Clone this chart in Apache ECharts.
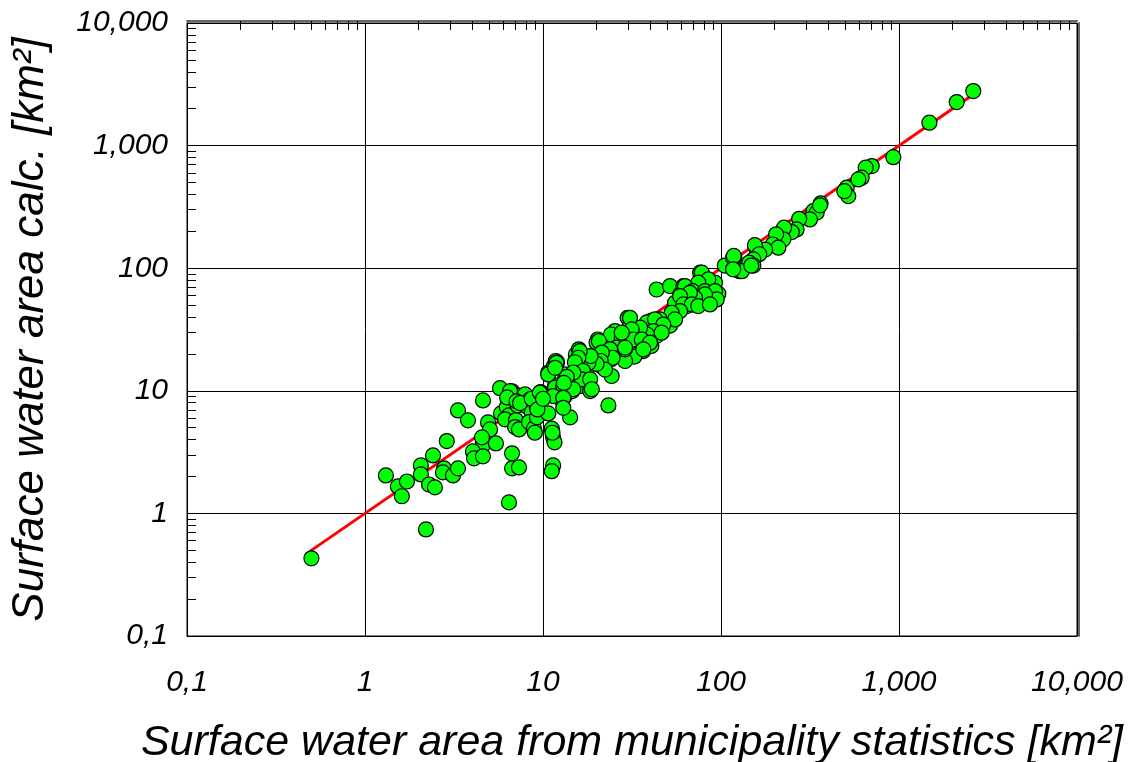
<!DOCTYPE html>
<html>
<head>
<meta charset="utf-8">
<script src="https://cdn.jsdelivr.net/npm/echarts@6/dist/echarts.min.js"></script>
<style>
  html, body { margin: 0; background: #fff; }
  #main { width: 1136px; height: 762px; }
</style>
</head>
<body>
<div id="main"></div>
<script>
// surface water area per municipality: [from statistics, calculated] (km²)
var municipalities = [
  [0.5, 0.43], [1.31, 2.04], [1.53, 1.66], [1.61, 1.38], [1.72, 1.82], [2.06, 2.46], [2.06, 2.08],
  [2.41, 2.97], [2.29, 1.72], [2.47, 1.63], [2.2, 0.74], [2.88, 3.89], [2.78, 2.33], [2.74, 2.16],
  [3.12, 2.04], [3.33, 2.33], [3.33, 6.92], [3.79, 5.74], [4.6, 8.35], [4.91, 5.52], [5.04, 4.84],
  [4.6, 3.87], [4.6, 3.59], [4.04, 3.2], [4.1, 2.81], [4.6, 2.92], [4.54, 4.17], [5.44, 3.72],
  [6.7, 3.09], [6.7, 2.33], [7.33, 2.37], [6.44, 1.23], [5.73, 10.5], [6.7, 9.9], [7.14, 9.17],
  [5.81, 6.54], [6.25, 7.36], [6.44, 6.3], [6.12, 5.85], [7.05, 5.77], [6.97, 5.06], [7.33, 4.84],
  [7.2, 7.6], [6.53, 9.95], [7.93, 9.35], [8.1, 7.46], [8.45, 8.5], [8.64, 6.7], [8.34, 5.56],
  [9.22, 7.41], [8.9, 4.93], [9.25, 6.07], [9.96, 8.83], [9.7, 9.77], [10.7, 6.54], [10.7, 14.1],
  [11.5, 15.9], [11.7, 11.1], [11.8, 17.5], [11.2, 4.91], [11.4, 4.17], [11.6, 3.8], [11.4, 2.46],
  [11.2, 2.21], [6.29, 8.83], [7.1, 8.2], [23.3, 7.6], [14.2, 6.07], [7.43, 7.95], [8.64, 8.61],
  [9.0, 4.55], [9.3, 7.05], [9.6, 9.65], [11.3, 4.55], [11.7, 10.6], [10.7, 13.6], [12.0, 17.1],
  [13.3, 13.6], [13.0, 10.9], [13.3, 9.05], [12.7, 8.5], [14.2, 12.4], [14.6, 9.95], [15.3, 19.8],
  [15.9, 21.8], [15.8, 14.9], [16.1, 10.9], [16.8, 12.4], [18.0, 18.0], [17.6, 14.1], [18.4, 9.95],
  [19.5, 16.9], [20.3, 26.2], [20.9, 19.8], [21.2, 15.9], [23.3, 23.2], [24.3, 13.2], [24.9, 28.8],
  [25.4, 30.7], [24.0, 18.0], [28.3, 21.8], [29.3, 25.4], [29.9, 39.4], [32.2, 31.7], [28.9, 18.0],
  [33.6, 26.2], [36.2, 24.7], [36.6, 21.1], [40.6, 23.2], [40.6, 37.3], [43.5, 28.1], [43.5, 67],
  [46.4, 33.7], [51.7, 71.5], [51.7, 34], [53.9, 39.4], [56.2, 44.7], [55.2, 52.2], [58.9, 61.1],
  [61.5, 71.5], [64.3, 49.1], [68.5, 65], [70.0, 50.6], [76.3, 91.9], [78, 55.6], [83, 81.1],
  [86.7, 63], [93.6, 55.6], [92.5, 76.2], [96.6, 62], [105, 105], [119, 122], [127, 94.6],
  [38.3, 36.1], [30.8, 33.7], [24.1, 28.8], [20, 24.7], [20.6, 25.4], [27.7, 27.1], [32.6, 29.8],
  [32.4, 25.8], [35.9, 25.4], [32.6, 19], [28.9, 17.5], [28.9, 21.8], [25.9, 22.5], [23.8, 21.8],
  [24.6, 18.6], [21.4, 20.5], [21.1, 17.5], [22.3, 14.9], [20, 16.6], [18, 16.9], [18.5, 19.2],
  [16.1, 21.1], [15.8, 18.6], [15.1, 17.1], [16.8, 14.5], [16.5, 12.4], [18.4, 12.4], [18.8, 10.3],
  [14.8, 10.3], [14.8, 14.1], [13.6, 13.0], [13.1, 11.6], [11.9, 16.9], [11.7, 15.4], [11.4, 9.05],
  [13.0, 8.77], [10.0, 8.61], [13.0, 7.27], [78, 91.9], [84.9, 81.1], [74.5, 76.2], [62.8, 71.5],
  [69.3, 65], [81.3, 65], [92.5, 65], [94.6, 55.6], [81.3, 61.1], [71.5, 57.4], [66.9, 63],
  [58.9, 59.2], [61.5, 50.6], [68.5, 50.6], [74.5, 49.1], [86.7, 50.6], [58.9, 44.7], [52.8, 43.3],
  [55.2, 38.2], [45.4, 38.2], [42.6, 38.2], [47.4, 34.7], [41.7, 30.7], [46.4, 29.8], [38.3, 28.8],
  [35.1, 32.7], [30.8, 39.4], [31.5, 31.7], [32.2, 26.2], [35.9, 26.2], [39.9, 24.7], [36.6, 21.8],
  [28.9, 22.5], [27.7, 29.8], [508, 454], [519, 387], [493, 425], [363, 338], [330, 292],
  [345, 284], [316, 250], [275, 253], [266, 207], [250, 197], [226, 214], [224, 172], [204, 189],
  [195, 156], [210, 147], [177, 142], [159, 138], [155, 154], [164, 130], [152, 118], [144, 111],
  [152, 105], [131, 94.6], [117, 99], [117, 122], [2614, 2786], [2110, 2264], [1482, 1537],
  [929, 805], [703, 681], [650, 660], [617, 547], [591, 530], [360, 326], [118, 126], [117, 97.9],
  [148, 105]
];

// fitted 1:1 line
var fitLine = [[0.49, 0.49], [2650, 2650]];

var tickValues = [0.1, 1, 10, 100, 1000, 10000];
var tickLabels = ['0,1', '1', '10', '100', '1,000', '10,000'];

var minorTicks = [];
tickValues.slice(0, -1).forEach(function (d) {
  for (var k = 2; k <= 9; k++) minorTicks.push(d * k);
});

function fmt(v) {
  for (var i = 0; i < tickValues.length; i++) {
    if (Math.abs(Math.log10(v) - Math.log10(tickValues[i])) < 1e-6) return tickLabels[i];
  }
  return '';
}

var chart = echarts.init(document.getElementById('main'));

var font = 'Liberation Sans, Arial, sans-serif';

var option = {
  backgroundColor: '#fff',
  animation: false,
  grid: {
    left: 187, right: 59, top: 23, bottom: 126,
    outerBoundsMode: 'none',
    show: true, borderColor: '#000', borderWidth: 1
  },
  xAxis: [
    {
      type: 'log', logBase: 10, min: 0.1, max: 10000,
      name: 'Surface water area from municipality statistics [km²]',
      nameLocation: 'middle', nameGap: 86,
      nameTextStyle: { fontFamily: font, fontStyle: 'italic', fontSize: 43, color: '#000' },
      axisLine: { show: true, lineStyle: { color: '#000', width: 1 } },
      axisTick: { show: false },
      axisLabel: {
        margin: 32, formatter: fmt, color: '#000',
        fontFamily: font, fontStyle: 'italic', fontSize: 30
      },
      splitLine: { show: true, lineStyle: { color: '#000', width: 1 } }
    },
    {
      type: 'log', logBase: 10, min: 0.1, max: 10000, offset: 2,
      axisLine: { show: true, lineStyle: { color: '#666', width: 2 } },
      axisTick: { show: true, inside: true, length: 9, customValues: minorTicks, lineStyle: { color: '#000' } },
      axisLabel: { show: false },
      splitLine: { show: false }
    }
  ],
  yAxis: [
    {
      type: 'log', logBase: 10, min: 0.1, max: 10000,
      name: 'Surface water area calc. [km²]',
      nameLocation: 'middle', nameGap: 134,
      nameTextStyle: { fontFamily: font, fontStyle: 'italic', fontSize: 44, color: '#000' },
      axisLine: { show: true, lineStyle: { color: '#000', width: 1 } },
      axisTick: { show: false },
      axisLabel: {
        margin: 19, formatter: fmt, color: '#000',
        fontFamily: font, fontStyle: 'italic', fontSize: 30
      },
      splitLine: { show: true, lineStyle: { color: '#000', width: 1 } }
    },
    {
      type: 'log', logBase: 10, min: 0.1, max: 10000, position: 'left',
      axisLine: { show: false },
      axisTick: { show: true, inside: true, length: 9, customValues: minorTicks, lineStyle: { color: '#000' } },
      axisLabel: { show: false },
      splitLine: { show: false }
    },
    {
      type: 'log', logBase: 10, min: 0.1, max: 10000, position: 'right', offset: 2,
      axisLine: { show: true, lineStyle: { color: '#666', width: 2 } },
      axisTick: { show: false },
      axisLabel: { show: false },
      splitLine: { show: false }
    }
  ],
  series: [
    {
      type: 'line',
      data: fitLine,
      showSymbol: false,
      symbol: 'none',
      z: 2,
      lineStyle: { color: '#ff0000', width: 3 }
    },
    {
      type: 'scatter',
      data: municipalities,
      symbolSize: 15,
      z: 3,
      itemStyle: { color: '#00ff00', borderColor: '#000', borderWidth: 1.2, opacity: 1 }
    }
  ]
};

chart.setOption(option);
</script>
</body>
</html>
